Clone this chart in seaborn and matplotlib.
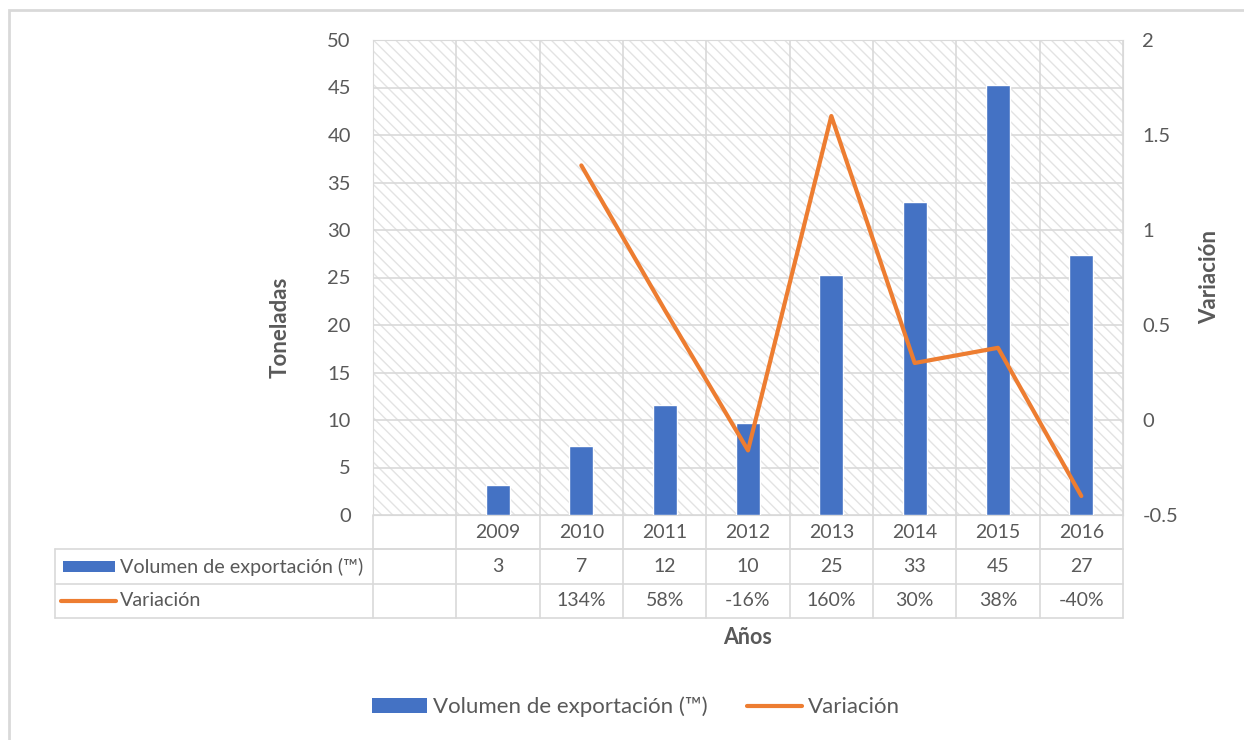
import matplotlib.pyplot as plt
from matplotlib.patches import Rectangle
from matplotlib.lines import Line2D
import seaborn as sns
import pandas as pd

categories = ["", "2009", "2010", "2011", "2012", "2013", "2014", "2015", "2016"]
vol_years = ["2009", "2010", "2011", "2012", "2013", "2014", "2015", "2016"]
volumen = [3.2, 7.3, 11.6, 9.7, 25.3, 32.9, 45.3, 27.4]
var_years = ["2010", "2011", "2012", "2013", "2014", "2015", "2016"]
variacion = [1.34, 0.58, -0.16, 1.60, 0.30, 0.38, -0.40]

left_ticks = list(range(0, 51, 5))
right_ticks = [-0.5, 0, 0.5, 1, 1.5, 2]
right_labels = ["-0.5", "0", "0.5", "1", "1.5", "2"]

BLUE = "#4472C4"
ORANGE = "#ED7D31"
GRID = "#D9D9D9"
TXT = "#595959"

sns.set_style("white")
plt.rcParams["font.family"] = ["Lato", "DejaVu Sans"]
plt.rcParams["hatch.linewidth"] = 1.0

fig = plt.figure(figsize=(12.44, 7.40), dpi=100)
ax = fig.add_axes([373 / 1244, 1 - 515 / 740, 750 / 1244, 475 / 740])

# hatched plot-area background
ax.add_patch(Rectangle((0, 0), 1, 1, transform=ax.transAxes, facecolor="white",
                       edgecolor="#E3E3E3", lw=0, hatch="\\\\\\", zorder=0))

df = pd.DataFrame({"year": vol_years, "volumen": volumen})
sns.barplot(data=df, x="year", y="volumen", order=categories, color=BLUE,
            saturation=1, width=0.29, ax=ax, zorder=3)

ax.set_ylim(0, 50)
ax.set_yticks(left_ticks)
ax.set_xlim(-0.5, len(categories) - 0.5)
ax.set_xticks([])
ax.set_xlabel("")
ax.set_ylabel("")
ax.tick_params(axis="y", length=0, pad=16, labelsize=14.5, labelcolor=TXT)
for y in left_ticks:
    ax.axhline(y, color=GRID, lw=1.2, zorder=1)
for i in range(len(categories) + 1):
    ax.axvline(i - 0.5, color=GRID, lw=1.2, zorder=1)
for s in ax.spines.values():
    s.set_color(GRID)

ax2 = ax.twinx()
xpos = [categories.index(y) for y in var_years]
sns.lineplot(x=xpos, y=variacion, color=ORANGE, lw=3, ax=ax2, legend=False, zorder=4)
ax2.set_ylim(-0.5, 2)
ax2.set_yticks(right_ticks)
ax2.set_yticklabels(right_labels)
ax2.set_xlim(-0.5, len(categories) - 0.5)
ax2.tick_params(axis="y", length=0, pad=14, labelsize=14.5, labelcolor=TXT)
for s in ax2.spines.values():
    s.set_visible(False)

# data table below the plot
rows = [0, -34 / 475, -69 / 475, -103 / 475]
tx = ax.get_xaxis_transform()
x_left_tab = -318 / 750
line_kw = dict(color=GRID, lw=1.2, clip_on=False)
ax.add_line(Line2D([-0.5, 8.5], [rows[1], rows[1]], transform=tx, **line_kw))
for r in rows[1:]:
    ax.add_line(Line2D([x_left_tab, 1], [r, r], transform=ax.transAxes, **line_kw))
ax.add_line(Line2D([x_left_tab, x_left_tab], [rows[1], rows[3]], transform=ax.transAxes, **line_kw))
for i in range(len(categories) + 1):
    ax.add_line(Line2D([i - 0.5, i - 0.5], [0, rows[3]], transform=tx, **line_kw))

mid = [(rows[k] + rows[k + 1]) / 2 for k in range(3)]
tkw = dict(transform=tx, ha="center", va="center", fontsize=14, color=TXT, clip_on=False)
for i, c in enumerate(categories):
    ax.text(i, mid[0], c, **tkw)
for y, v in zip(vol_years, volumen):
    ax.text(categories.index(y), mid[1], f"{v:.0f}", **tkw)
for y, v in zip(var_years, variacion):
    ax.text(categories.index(y), mid[2], f"{v:.0%}", **tkw)

# legend keys inside the table
ax.add_patch(Rectangle((-310 / 750, mid[1] - 5.5 / 475), 52 / 750, 11 / 475, transform=ax.transAxes,
                       facecolor=BLUE, edgecolor="none", clip_on=False))
ax.add_line(Line2D([-312 / 750, -257 / 750], [mid[2], mid[2]], transform=ax.transAxes,
                   color=ORANGE, lw=3, clip_on=False, solid_capstyle="round"))
ax.text(-253 / 750, mid[1], "Volumen de exportación (™)", transform=ax.transAxes,
        ha="left", va="center", fontsize=14.2, color=TXT)
ax.text(-253 / 750, mid[2], "Variación", transform=ax.transAxes,
        ha="left", va="center", fontsize=14.2, color=TXT)

# axis titles
fig.text(280 / 1244, 1 - 327 / 740, "Toneladas", rotation=90, ha="center", va="center",
         fontsize=16, fontweight="bold", color=TXT)
fig.text(1210 / 1244, 1 - 277 / 740, "Variación", rotation=90, ha="center", va="center",
         fontsize=16, fontweight="bold", color=TXT)
fig.text(748 / 1244, 1 - 638 / 740, "Años", ha="center", va="center",
         fontsize=15.5, fontweight="bold", color=TXT)

handles = [Rectangle((0, 0), 1, 1, facecolor=BLUE, edgecolor="none"),
           Line2D([0], [0], color=ORANGE, lw=3)]
leg = fig.legend(handles, ["Volumen de exportación (™)", "Variación"], loc="center",
                 bbox_to_anchor=(636 / 1244, 1 - 707 / 740), ncol=2, frameon=False,
                 fontsize=16, handlelength=2.45, handleheight=0.6, columnspacing=1.8,
                 handletextpad=0.27)
for t in leg.get_texts():
    t.set_color(TXT)

# chart-area frame
fig.add_artist(Rectangle((9 / 1244, -0.05), 1.2, 1.05 - 10 / 740, transform=fig.transFigure,
                         fill=False, edgecolor=GRID, lw=2))

fig.savefig("out.png", dpi=100)
